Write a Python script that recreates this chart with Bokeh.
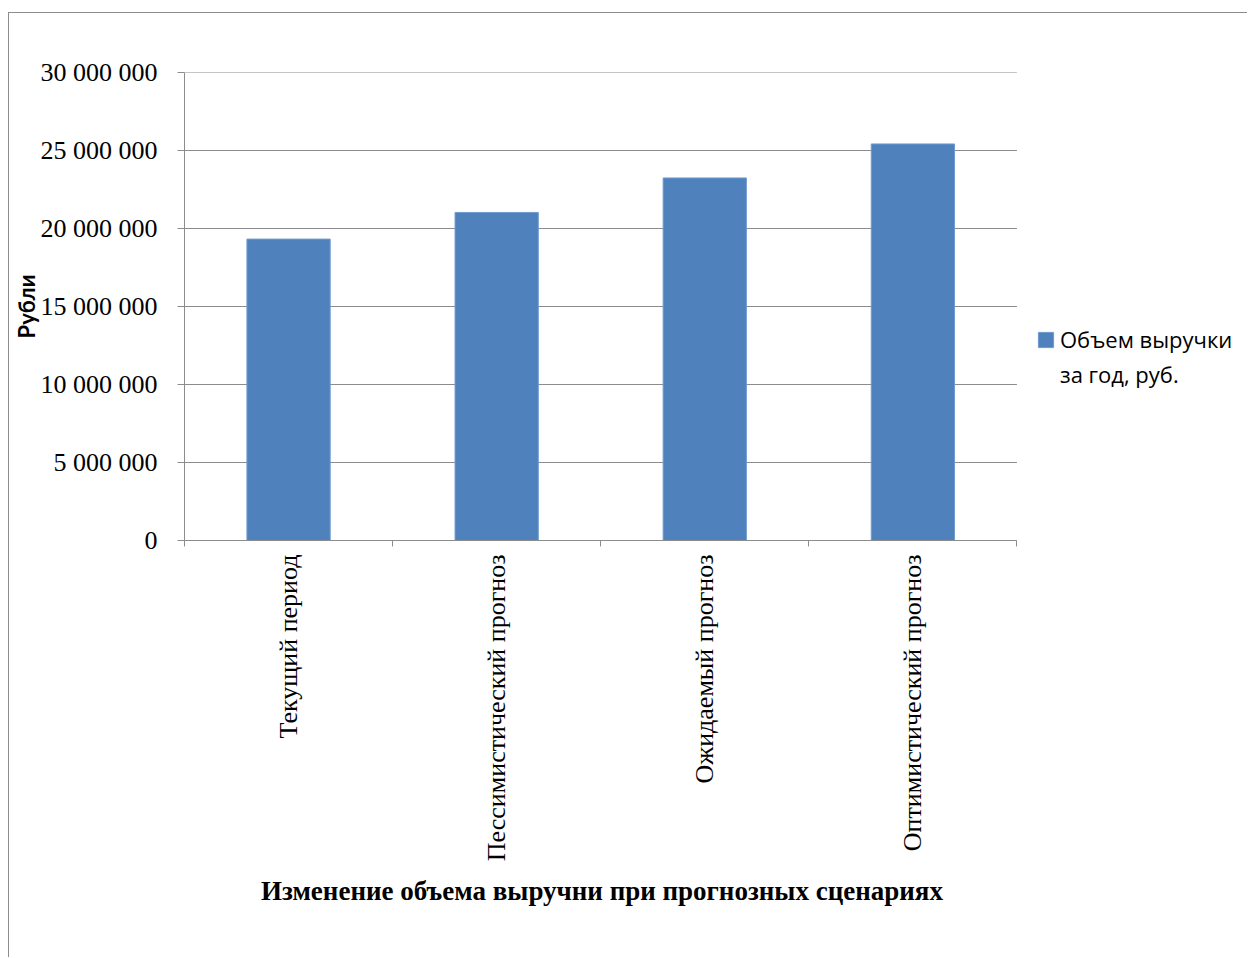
from math import pi
from bokeh.plotting import figure
from bokeh.models import (Range1d, LinearAxis, FixedTicker, Title,
                          CustomJSTickFormatter, Legend, LegendItem, ColumnDataSource)
from bokeh.transform import dodge
from bokeh.embed import file_html
from bokeh.resources import INLINE

# ---- data ----
categories = ["Текущий период", "Пессимистический прогноз", "Ожидаемый прогноз", "Оптимистический прогноз"]
revenue = [19_320_000, 21_030_000, 23_240_000, 25_420_000]
y_ticks = [0, 5_000_000, 10_000_000, 15_000_000, 20_000_000, 25_000_000, 30_000_000]
series_label_lines = ["Объем выручки", "за год, руб."]
y_title = "Рубли"
x_title = "Изменение объема выручни при прогнозных сценариях"

GREY = "#8c8c8c"
BAR = "#4F81BD"
SERIF = "'Liberation Serif', 'Times New Roman', serif"

# layout (pixels)
FIG_W, FIG_H = 1239, 945
LEFT, TOP, BOTTOM = 173, 59, 418
PLOT_PX = 834            # width of the category area
FRAME_PX = FIG_W - LEFT  # frame extends to the right edge (legend lives there)
TITLE_PX = 681           # approx. rendered width of the x title

n = len(categories)
idx = list(range(n))
src = ColumnDataSource(dict(idx=idx, cat=categories, val=revenue))
x_end = n * FRAME_PX / PLOT_PX

p = figure(x_range=Range1d(0, x_end), y_range=Range1d(0, y_ticks[-1]),
           width=FIG_W, height=FIG_H, output_backend="svg", toolbar_location=None,
           x_axis_location=None, y_axis_location="left",
           min_border_left=LEFT, min_border_right=0, min_border_top=TOP, min_border_bottom=BOTTOM)
p.margin = (12, 0, 0, 8)
p.styles = {"border-left": f"1px solid {GREY}", "border-top": f"1px solid {GREY}"}
p.outline_line_color = None
p.background_fill_color = "white"
p.border_fill_color = "white"
p.xgrid.visible = False
p.ygrid.visible = False

# horizontal gridlines limited to the category area
p.segment(x0=0, x1=n, y0=y_ticks, y1=y_ticks, line_color=GREY, line_width=1)

r = p.vbar(x=dodge("idx", 0.5), top="val", width=0.4, source=src,
           fill_color=BAR, line_color="#6f9bd0", line_width=1)

# y axis
ya = p.yaxis[0]
ya.ticker = FixedTicker(ticks=y_ticks)
ya.formatter = CustomJSTickFormatter(code='return tick.toFixed(0).replace(/\\B(?=(\\d{3})+(?!\\d))/g, " ");')
ya.major_label_text_font = SERIF
ya.major_label_text_font_size = "26px"
ya.major_label_text_color = "black"
ya.major_tick_out = 7
ya.major_tick_in = 0
ya.minor_tick_line_color = None
ya.axis_line_color = GREY
ya.major_tick_line_color = GREY
ya.major_label_standoff = 20
ya.axis_label = y_title
ya.axis_label_text_font = "Lato"
ya.axis_label_text_font_style = "bold"
ya.axis_label_text_font_size = "22px"
ya.axis_label_text_color = "black"
ya.axis_label_standoff = -2

# category boundary ticks (no labels)
ba = LinearAxis(ticker=FixedTicker(ticks=[i for i in range(n + 1)]), bounds=(0, n),
                formatter=CustomJSTickFormatter(code='return "";'),
                major_label_text_font_size="1px", major_label_standoff=0,
                major_tick_in=0, major_tick_out=6, minor_tick_line_color=None,
                axis_line_color=GREY, major_tick_line_color=GREY)
p.add_layout(ba, "below")

centers = [i + 0.5 for i in idx]
ca = LinearAxis(ticker=FixedTicker(ticks=centers), bounds=(0, n),
                major_label_overrides={c: name for c, name in zip(centers, categories)},
                axis_line_color=None, major_tick_line_color=None, major_tick_in=0, major_tick_out=0,
                minor_tick_line_color=None,
                major_label_orientation=pi / 2, major_label_text_font=SERIF,
                major_label_text_font_size="26px", major_label_text_color="black",
                major_label_standoff=8)
p.add_layout(ca, "below")

# x title centred under the category area
p.add_layout(Title(text=x_title, align="left", offset=(PLOT_PX - TITLE_PX) / 2,
                   text_font=SERIF, text_font_style="bold", text_font_size="27px",
                   text_color="black", standoff=18), "below")

legend = Legend(items=[LegendItem(label=series_label_lines[0], renderers=[r]),
                       LegendItem(label=series_label_lines[1], renderers=[])],
                location=(852, 151),
                border_line_color=None, background_fill_alpha=0, padding=0, margin=0, spacing=5,
                glyph_width=19, glyph_height=19, label_standoff=5,
                label_text_font="Open Sans", label_text_font_size="22px", label_text_color="black")
p.add_layout(legend, "center")

open("out.html", "w").write(file_html(p, INLINE))
